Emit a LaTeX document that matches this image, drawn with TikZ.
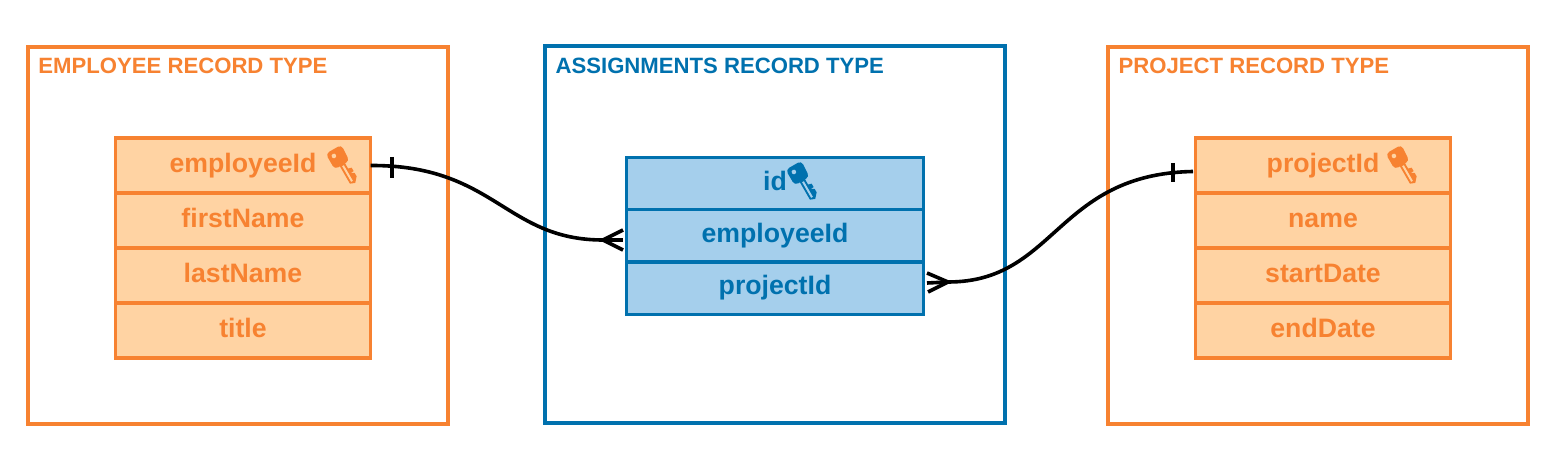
\documentclass[tikz,border=0pt]{standalone}
\usepackage{fontspec}
\setmainfont{Liberation Sans}
\usetikzlibrary{positioning}
\definecolor{emporange}{RGB}{247,130,49}
\definecolor{empfill}{RGB}{255,211,163}
\definecolor{asgblue}{RGB}{0,113,174}
\definecolor{asgfill}{RGB}{165,207,236}
\tikzset{
    recordbox/.style={draw=#1, line width=3pt, inner sep=0pt, outer sep=0pt, fill=white},
    recordtitle/.style={text=#1, font=\bfseries\fontsize{16.6}{18}\selectfont, inner sep=0pt, anchor=north west},
    fieldrow/.style n args={2}{draw=#1, fill=#2, text=#1, line width=2.6pt, inner sep=0pt, outer sep=0pt,
        font=\bfseries\fontsize{20}{22}\selectfont, text height=14pt, text depth=4pt, align=center},
    emprow/.style={fieldrow={emporange}{empfill}, minimum width=191.5pt, minimum height=41.25pt},
    asgrow/.style={fieldrow={asgblue}{asgfill}, minimum width=223pt, minimum height=39.25pt},
    link/.style={draw=black, line width=2.7pt},
    pics/recordkey/.style n args={2}{code={
        \fill[#1, rotate=30, rounded corners=3] (-9,-17) -- (9,-17) -- (8,1) -- (-9,1) -- cycle;
        \fill[#1, rotate=30] (-3,0) -- (3,0) -- (3,7) -- (6.5,8) -- (6.5,12) -- (3,12) -- (6.5,14) -- (6.5,18) -- (2,23) -- (-3,21) -- cycle;
        \fill[#2, rotate=30] (-1,2) rectangle (1,20);
        \fill[#2, rotate=30] (-3,-11) circle (2.3);
    }}
}

\begin{document}
\begin{tikzpicture}[x=0.75pt, y=-0.75pt]
    \useasboundingbox (0,0) rectangle (1558,459);

    % Record type boxes
    \node[recordbox=emporange, minimum width=315pt, minimum height=282.75pt] (employee) at (237.5,235.5) {};
    \node[recordbox=asgblue, minimum width=344.5pt, minimum height=282.75pt] (assignments) at (775,234.5) {};
    \node[recordbox=emporange, minimum width=314.5pt, minimum height=282.75pt] (project) at (1318,235.5) {};

    % Titles
    \node[recordtitle=emporange, below right=8pt and 8pt of employee.north west] (employeetitle) {EMPLOYEE RECORD TYPE};
    \node[recordtitle=asgblue, below right=8.5pt and 7.5pt of assignments.north west] (assignmentstitle) {ASSIGNMENTS RECORD TYPE};
    \node[recordtitle=emporange, below right=8pt and 7.5pt of project.north west] (projecttitle) {PROJECT RECORD TYPE};

    % Employee fields
    \node[emprow] (empid) at (243,165.5) {employeeId};
    \node[emprow, below=0pt of empid] (empfirst) {firstName};
    \node[emprow, below=0pt of empfirst] (emplast) {lastName};
    \node[emprow, below=0pt of emplast] (emptitle) {title};
    \pic at (342,164) {recordkey={emporange}{empfill}};

    % Assignment fields
    \node[asgrow] (asgid) at (775,183.5) {id};
    \node[asgrow, below=0pt of asgid] (asgemp) {employeeId};
    \node[asgrow, below=0pt of asgemp] (asgproj) {projectId};
    \pic at (802,180) {recordkey={asgblue}{asgfill}};

    % Project fields
    \node[emprow] (projid) at (1323,165.5) {projectId};
    \node[emprow, below=0pt of projid] (projname) {name};
    \node[emprow, below=0pt of projname] (projstart) {startDate};
    \node[emprow, below=0pt of projstart] (projend) {endDate};
    \pic at (1402,164) {recordkey={emporange}{empfill}};

    % Employee to assignments
    \coordinate (empfoot) at (603,240);
    \coordinate (empfoottop) at (623,230);
    \coordinate (empfootmid) at (623,240);
    \coordinate (empfootbot) at (623,250);
    \coordinate (emptee) at (392,157);
    \coordinate (empteeend) at (392,178);
    \draw[link] (empid.east) .. controls (495,165) and (505,240) .. (empfoot);
    \draw[link] (emptee) -- (empteeend);
    \draw[link] (empfoot) -- (empfoottop);
    \draw[link] (empfoot) -- (empfootmid);
    \draw[link] (empfoot) -- (empfootbot);

    % Project to assignments
    \coordinate (projfoot) at (948,282);
    \coordinate (projstartpt) at (1193,171.5);
    \coordinate (projfoottop) at (927,273);
    \coordinate (projfootmid) at (927,283);
    \coordinate (projfootbot) at (928,292);
    \coordinate (projtee) at (1173,163);
    \coordinate (projteeend) at (1173,182);
    \draw[link] (projstartpt) .. controls (1056,174) and (1056,282) .. (projfoot);
    \draw[link] (projtee) -- (projteeend);
    \draw[link] (projfoot) -- (projfoottop);
    \draw[link] (projfoot) -- (projfootmid);
    \draw[link] (projfoot) -- (projfootbot);
\end{tikzpicture}
\end{document}
